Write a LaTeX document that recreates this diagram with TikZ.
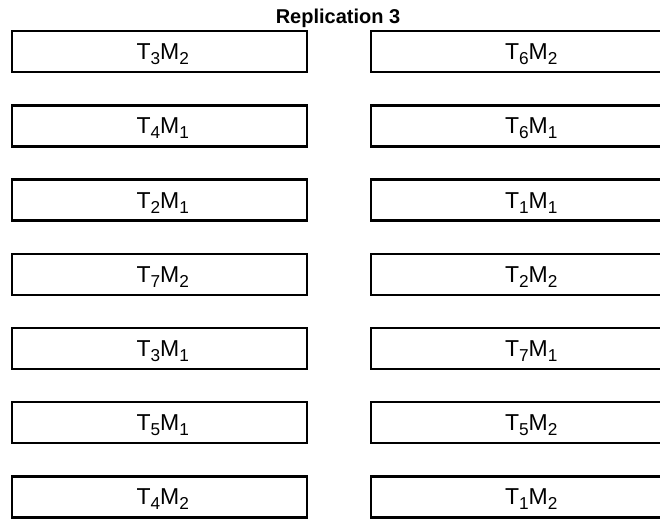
\documentclass[tikz,border=0pt]{standalone}
\usepackage{fontspec}
\setmainfont{Liberation Sans}
\usetikzlibrary{positioning}

% subscript digit, lowered and reduced
\newcommand{\lowsub}[1]{\raisebox{-0.22em}{\scalebox{0.75}{#1}}}
\newcommand{\tm}[2]{T\lowsub{#1}M\lowsub{#2}}

\tikzset{
  plot/.style={draw=black, line width=2.4pt, rectangle, minimum height=41pt,
               inner sep=0pt, anchor=north west},
  leftplot/.style={plot, minimum width=295pt},
  rightplot/.style={plot, minimum width=320pt},
  plotlabel/.style={anchor=base, font=\fontsize{23}{26}\selectfont, inner sep=0pt},
  heading/.style={anchor=base, font=\fontsize{20}{24}\selectfont\bfseries, inner sep=0pt}
}

\begin{document}
\begin{tikzpicture}[x=1pt, y=-1pt]
  \useasboundingbox (0,0) rectangle (660,519);
  \clip (0,0) rectangle (660,519);
  \fill[white] (0,0) rectangle (660,519);

  \node[heading] (title) at (338,24) {Replication 3};

  % left column of plots
  \foreach \i/\t/\m in {1/3/2, 2/4/1, 3/2/1, 4/7/2, 5/3/1, 6/5/1, 7/4/2} {
    \node[leftplot] (L\i) at (11, {30+74.2*(\i-1)}) {};
    \node[plotlabel] (L\i t) at ([xshift=3pt, yshift=-8pt]L\i.center) {\tm{\t}{\m}};
  }

  % right column of plots
  \foreach \i/\t/\m in {1/6/2, 2/6/1, 3/1/1, 4/2/2, 5/7/1, 6/5/2, 7/1/2} {
    \node[rightplot] (R\i) at (370, {30+74.2*(\i-1)}) {};
    \node[plotlabel] (R\i t) at ([xshift=0pt, yshift=-8pt]R\i.center) {\tm{\t}{\m}};
  }
\end{tikzpicture}
\end{document}
